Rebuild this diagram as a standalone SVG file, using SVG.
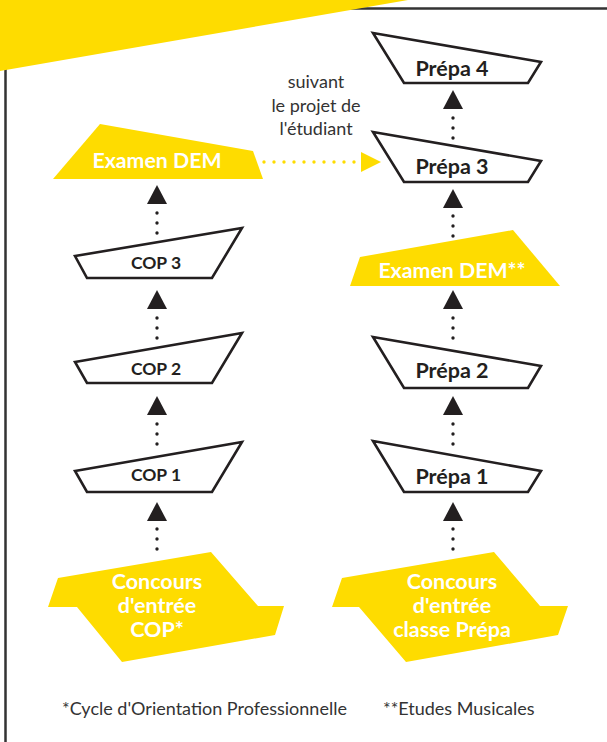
<svg xmlns="http://www.w3.org/2000/svg" width="607" height="742" viewBox="0 0 607 742">
<defs>
<style>
.box{fill:#fff;stroke:#231f20;stroke-width:2.6;stroke-linejoin:miter}
.yel{fill:#fedc00}
.bt{font-family:Lato,"Liberation Sans",sans-serif;font-weight:bold;text-anchor:middle;fill:#231f20}
.wt{font-family:Lato,"Liberation Sans",sans-serif;font-weight:bold;text-anchor:middle;fill:#fff}
.rt{font-family:Lato,"Liberation Sans",sans-serif;fill:#333}
.dot{fill:none;stroke:#231f20;stroke-width:3.4;stroke-linecap:round;stroke-dasharray:0 10}
.ydot{fill:none;stroke:#fedc00;stroke-width:3.4;stroke-linecap:round;stroke-dasharray:0 10}
</style>
<marker id="ah" markerUnits="userSpaceOnUse" markerWidth="20" markerHeight="20" viewBox="0 0 20 20" refX="0" refY="10" orient="auto">
<path d="M0,0 L19,10 L0,20 Z" fill="#231f20"/>
</marker>
<marker id="yah" markerUnits="userSpaceOnUse" markerWidth="21" markerHeight="20" viewBox="0 0 21 20" refX="0" refY="10" orient="auto">
<path d="M0,0 L20,10 L0,20 Z" fill="#fedc00"/>
</marker>
</defs>
<rect width="607" height="742" fill="#fff"/>
<path d="M5.5,742 V8.5 H607" fill="none" stroke="#333" stroke-width="2.5"/>
<polygon class="yel" points="0,0 408,0 0,71"/>

<g id="connectors">
<path class="dot" d="M157,233 V204" marker-end="url(#ah)"/>
<path class="dot" d="M157,338 V309" marker-end="url(#ah)"/>
<path class="dot" d="M157,444 V415" marker-end="url(#ah)"/>
<path class="dot" d="M157,549 V521" marker-end="url(#ah)"/>
<path class="dot" d="M453,138 V109" marker-end="url(#ah)"/>
<path class="dot" d="M453,236 V208" marker-end="url(#ah)"/>
<path class="dot" d="M453,338 V309" marker-end="url(#ah)"/>
<path class="dot" d="M453,444 V415" marker-end="url(#ah)"/>
<path class="dot" d="M453,549 V521" marker-end="url(#ah)"/>
<path class="ydot" d="M264,162 H361" marker-end="url(#yah)"/>
<text class="rt" font-size="18" text-anchor="middle"><tspan x="316" y="88">suivant</tspan><tspan x="316" y="112">le projet de</tspan><tspan x="316" y="135">l'étudiant</tspan></text>
</g>

<g id="examen-dem-left">
<polygon class="yel" points="100,124 253,151 263,179 53,179"/>
<text class="wt" x="157" y="168" font-size="21.3">Examen DEM</text>
</g>
<g id="cop3">
<polygon class="box" points="75,256 242,228 212,278 87,278"/>
<text class="bt" x="156" y="268.5" font-size="17.5">COP 3</text>
</g>
<g id="cop2">
<polygon class="box" points="75,362 242,333 212,383 87,383"/>
<text class="bt" x="156" y="374.5" font-size="17.5">COP 2</text>
</g>
<g id="cop1">
<polygon class="box" points="75,471 242,442 212,492 87,492"/>
<text class="bt" x="156" y="480.5" font-size="17.5">COP 1</text>
</g>
<g id="concours-cop">
<polygon class="yel" points="58,578 211,552 258,606 284,606 275,635 122,662 77,607 48,607"/>
<text class="wt" font-size="21.5"><tspan x="157" y="589">Concours</tspan><tspan x="157" y="613">d'entrée</tspan><tspan x="157" y="637">COP*</tspan></text>
</g>

<g id="prepa4">
<polygon class="box" points="373,33 541,62 528,83 404,83"/>
<text class="bt" x="452" y="75.5" font-size="21.5">Prépa 4</text>
</g>
<g id="prepa3">
<polygon class="box" points="373,132 541,161 528,182 404,182"/>
<text class="bt" x="452" y="173.5" font-size="21.5">Prépa 3</text>
</g>
<g id="examen-dem-right">
<polygon class="yel" points="360,257 513,230 560,286 350,286"/>
<text class="wt" x="452" y="277.5" font-size="21.3">Examen DEM**</text>
</g>
<g id="prepa2">
<polygon class="box" points="373,337 541,366 528,388 404,388"/>
<text class="bt" x="452" y="377.5" font-size="21.5">Prépa 2</text>
</g>
<g id="prepa1">
<polygon class="box" points="373,441 541,471 528,492 404,492"/>
<text class="bt" x="452" y="483.5" font-size="21.5">Prépa 1</text>
</g>
<g id="concours-prepa">
<polygon class="yel" points="342,578 494,552 540,606 568,606 558,635 406,662 359,607 332,607"/>
<text class="wt" font-size="21.5"><tspan x="452" y="589">Concours</tspan><tspan x="452" y="613">d'entrée</tspan><tspan x="452" y="637">classe Prépa</tspan></text>
</g>

<g id="footnotes">
<text class="rt" x="62" y="715" font-size="18">*Cycle d'Orientation Professionnelle</text>
<text class="rt" x="383" y="715" font-size="18">**Etudes Musicales</text>
</g>
</svg>
